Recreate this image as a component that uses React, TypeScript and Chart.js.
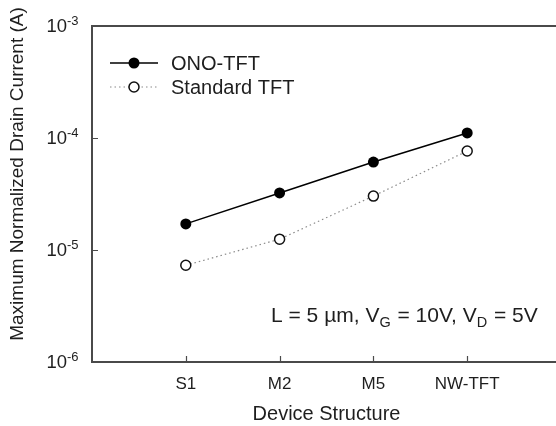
import React, { useEffect, useRef } from "react";
import { Chart, registerables } from "chart.js";

Chart.register(...registerables);

const categories = ["S1", "M2", "M5", "NW-TFT"];
const seriesNames = ["ONO-TFT", "Standard TFT"];
const onoValues = [1.71e-5, 3.23e-5, 6.1e-5, 1.11e-4];
const standardValues = [7.3e-6, 1.25e-5, 3.03e-5, 7.65e-5];
const yTickValues = [1e-6, 1e-5, 1e-4, 1e-3];
const yTickExponents = ["-6", "-5", "-4", "-3"];
const xTitle = "Device Structure";
const yTitle = "Maximum Normalized Drain Current (A)";
// [text, isSubscript]
const annotationParts: [string, boolean][] = [
  ["L = 5 \u00b5m, V", false],
  ["G", true],
  [" = 10V, V", false],
  ["D", true],
  [" = 5V", false],
];

const FONT = "'Liberation Sans', Arial, sans-serif";
const TEXT = "#1e1e1e";
const AXIS = "#4a4a4a";

const decorPlugin = {
  id: "decor",
  afterDraw(chart: any) {
    const ctx = chart.ctx as CanvasRenderingContext2D;
    const xs = chart.scales.x;
    const ys = chart.scales.y;
    const a = chart.chartArea;
    ctx.save();

    // axes frame (left, bottom, top)
    ctx.strokeStyle = AXIS;
    ctx.lineWidth = 2;
    ctx.beginPath();
    ctx.moveTo(a.right + 5, a.top);
    ctx.lineTo(a.left, a.top);
    ctx.lineTo(a.left, a.bottom);
    ctx.lineTo(a.right + 5, a.bottom);
    ctx.stroke();

    // ticks
    ctx.lineWidth = 1.2;
    ctx.beginPath();
    yTickValues.forEach((v) => {
      const y = Math.round(ys.getPixelForValue(v)) + 0.5;
      ctx.moveTo(a.left, y);
      ctx.lineTo(a.left + 6, y);
    });
    categories.forEach((_, i) => {
      const x = Math.round(xs.getPixelForValue(i + 1)) + 0.5;
      ctx.moveTo(x, a.bottom);
      ctx.lineTo(x, a.bottom - 6);
    });
    ctx.stroke();

    // y tick labels with superscript
    ctx.fillStyle = TEXT;
    ctx.textBaseline = "middle";
    yTickValues.forEach((v, i) => {
      const y = ys.getPixelForValue(v);
      const xr = a.left - 25;
      ctx.font = `18.5px ${FONT}`;
      ctx.textAlign = "right";
      ctx.fillText("10", xr, y + 1);
      ctx.font = `13px ${FONT}`;
      ctx.textAlign = "left";
      ctx.fillText(yTickExponents[i], xr, y - 5);
    });

    // x tick labels
    ctx.font = `17px ${FONT}`;
    ctx.textAlign = "center";
    categories.forEach((c, i) => {
      ctx.fillText(c, xs.getPixelForValue(i + 1), a.bottom + 22);
    });

    // x title
    ctx.font = `20px ${FONT}`;
    ctx.fillText(xTitle, (a.left + a.right) / 2, a.bottom + 52);

    // y title
    ctx.save();
    ctx.translate(18, (a.top + a.bottom) / 2 - 20);
    ctx.rotate(-Math.PI / 2);
    ctx.font = `19px ${FONT}`;
    ctx.textAlign = "center";
    ctx.fillText(yTitle, 0, 0);
    ctx.restore();

    // annotation
    const ay = a.top + 290;
    let ax = 271;
    ctx.textAlign = "left";
    annotationParts.forEach(([p, sub]) => {
      ctx.font = sub ? `14.5px ${FONT}` : `21px ${FONT}`;
      ctx.fillText(p, ax, sub ? ay + 7 : ay);
      ax += ctx.measureText(p).width + (sub ? 1 : 0);
    });

    // legend
    const lx0 = a.left + 18;
    const lx1 = a.left + 66;
    const lmx = (lx0 + lx1) / 2;
    const ly = [a.top + 37, a.top + 61];
    ctx.lineWidth = 1.5;
    ctx.strokeStyle = "#000";
    ctx.beginPath();
    ctx.moveTo(lx0, ly[0]);
    ctx.lineTo(lx1, ly[0]);
    ctx.stroke();
    ctx.fillStyle = "#000";
    ctx.beginPath();
    ctx.arc(lmx, ly[0], 5.5, 0, Math.PI * 2);
    ctx.fill();

    ctx.strokeStyle = "#8a8a8a";
    ctx.lineWidth = 1.2;
    ctx.setLineDash([1.5, 3]);
    ctx.beginPath();
    ctx.moveTo(lx0, ly[1]);
    ctx.lineTo(lx1, ly[1]);
    ctx.stroke();
    ctx.setLineDash([]);
    ctx.fillStyle = "#fff";
    ctx.strokeStyle = "#111";
    ctx.lineWidth = 1.5;
    ctx.beginPath();
    ctx.arc(lmx, ly[1], 5, 0, Math.PI * 2);
    ctx.fill();
    ctx.stroke();

    ctx.fillStyle = TEXT;
    ctx.font = `20px ${FONT}`;
    ctx.textBaseline = "middle";
    ctx.fillText(seriesNames[0], a.left + 79, ly[0] + 1);
    ctx.fillText(seriesNames[1], a.left + 79, ly[1] + 1);

    ctx.restore();
  },
};

export default function App() {
  const ref = useRef<HTMLCanvasElement>(null);
  useEffect(() => {
    if (!ref.current) return;
    const chart = new Chart(ref.current, {
      type: "line",
      data: {
        datasets: [
          {
            label: seriesNames[1],
            data: standardValues.map((v, i) => ({ x: i + 1, y: v })),
            borderColor: "#8a8a8a",
            borderWidth: 1.2,
            borderDash: [1.5, 3],
            pointRadius: 5,
            pointBorderWidth: 1.5,
            pointBackgroundColor: "#fff",
            pointBorderColor: "#111",
            tension: 0,
          },
          {
            label: seriesNames[0],
            data: onoValues.map((v, i) => ({ x: i + 1, y: v })),
            borderColor: "#000",
            borderWidth: 1.5,
            pointRadius: 5.5,
            pointBorderWidth: 0,
            pointBackgroundColor: "#000",
            pointBorderColor: "#000",
            tension: 0,
          },
        ],
      },
      options: {
        animation: false,
        responsive: false,
        layout: { padding: { left: 92, top: 26, right: 19, bottom: 64 } },
        plugins: { legend: { display: false }, tooltip: { enabled: false } },
        scales: {
          x: { type: "linear", min: 0, max: 5, display: false },
          y: { type: "logarithmic", min: 1e-6, max: 1e-3, display: false },
        },
      },
      plugins: [decorPlugin],
    });
    return () => chart.destroy();
  }, []);
  return (
    <div style={{ position: "absolute", left: 0, top: 0, width: 556, height: 426, overflow: "hidden", background: "#fff" }}>
      <canvas ref={ref} width={580} height={426} style={{ display: "block", width: 580, height: 426 }} />
    </div>
  );
}
